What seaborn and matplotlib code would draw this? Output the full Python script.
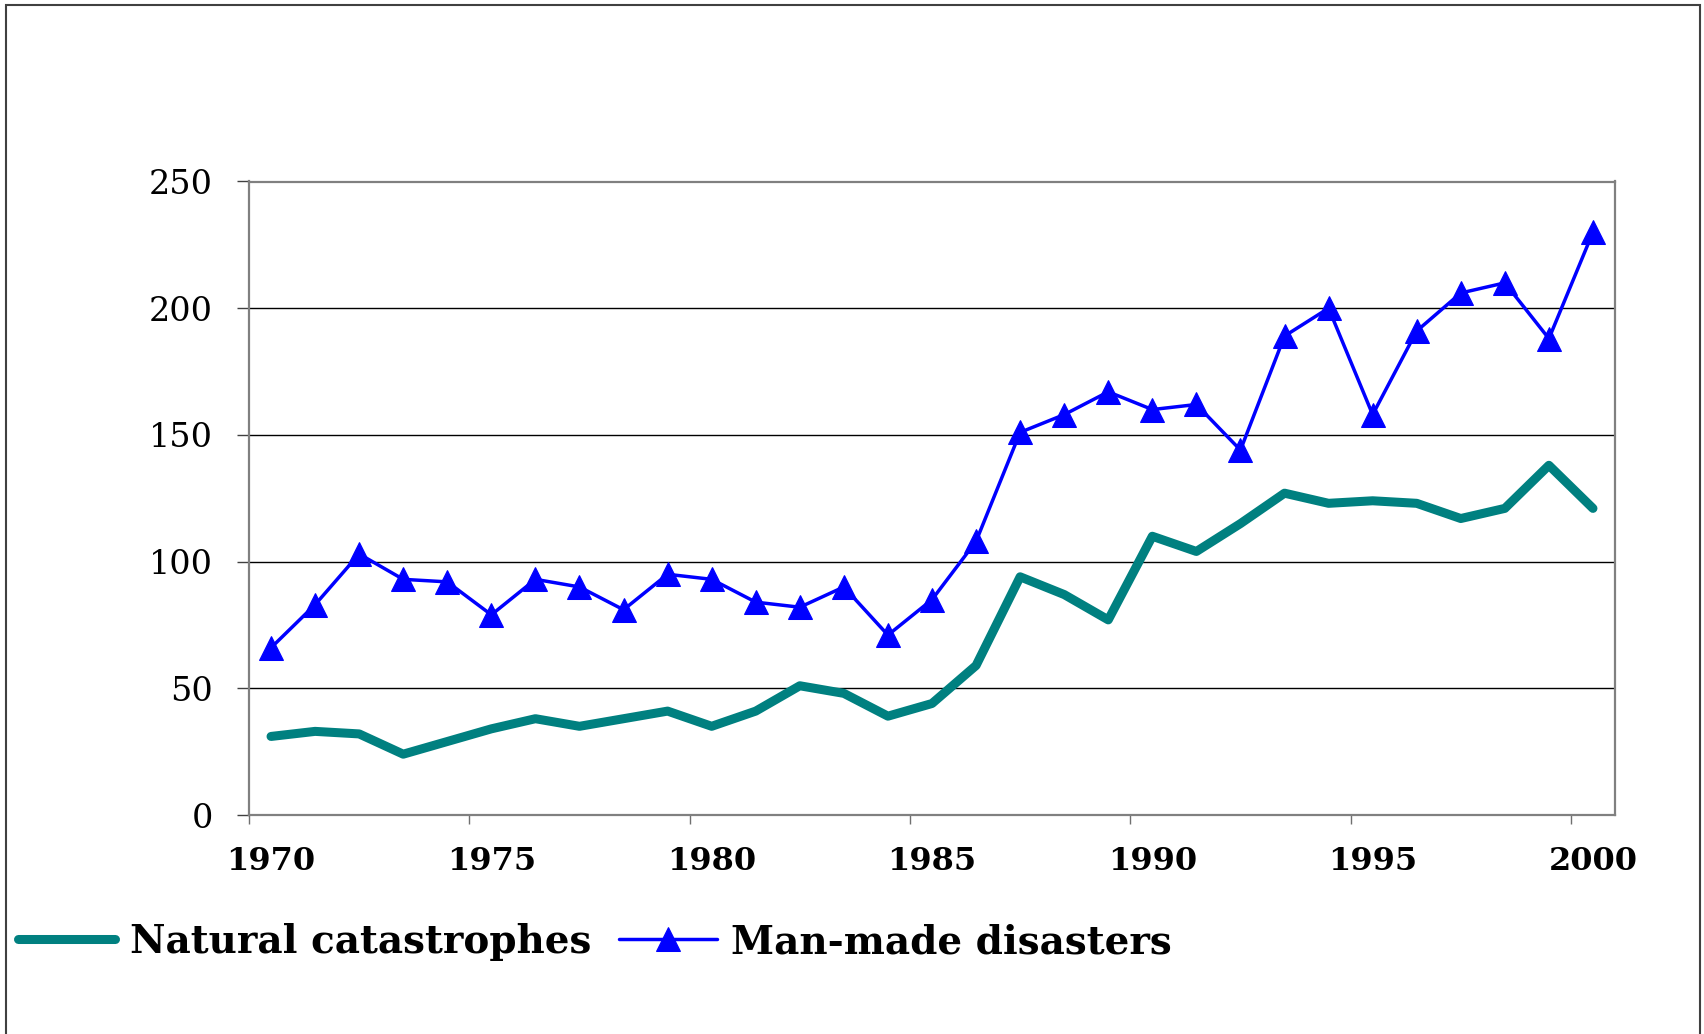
import numpy as np
import pandas as pd
import matplotlib
matplotlib.use("Agg")
import matplotlib.pyplot as plt
from matplotlib.patches import Rectangle
from matplotlib.ticker import FixedLocator
import seaborn as sns

# data
years = list(range(1970, 2001))
natural = [31, 33, 32, 24, 29, 34, 38, 35, 38, 41, 35, 41, 51, 48, 39, 44,
           59, 94, 87, 77, 110, 104, 115, 127, 123, 124, 123, 117, 121, 138, 121]
manmade = [66, 83, 103, 93, 92, 79, 93, 90, 81, 95, 93, 84, 82, 90, 71, 85,
           108, 151, 158, 167, 160, 162, 144, 189, 200, 158, 191, 206, 210, 188, 230]
series_names = ["Natural catastrophes", "Man-made disasters"]
y_ticks = [0, 50, 100, 150, 200, 250]
x_label_years = [1970, 1975, 1980, 1985, 1990, 1995, 2000]

sns.set_style("white")
plt.rcParams['font.family'] = ['DejaVu Serif', 'Liberation Serif']
plt.rcParams['text.color'] = 'black'
plt.rcParams['xtick.labelcolor'] = 'black'
plt.rcParams['ytick.labelcolor'] = 'black'

df = pd.DataFrame({"year": years, "natural": natural, "manmade": manmade})

W, H = 1704, 1034
fig = plt.figure(figsize=(W / 100, H / 100), dpi=100)
ax = fig.add_axes([249 / W, 1 - 815 / H, (1615 - 249) / W, (815 - 181.5) / H])

# gridlines first so the series sit on top
for yv in y_ticks[1:-1]:
    ax.axhline(yv, color="black", lw=1.0, zorder=1)

sns.lineplot(data=df, x="year", y="natural", ax=ax, color="#008080", lw=6.5,
             solid_capstyle="round", solid_joinstyle="round",
             label=series_names[0], zorder=3)
sns.lineplot(data=df, x="year", y="manmade", ax=ax, color="#0000FF", lw=2.5,
             marker="^", markersize=17, markeredgecolor="#0000FF",
             label=series_names[1], zorder=4)

ax.set_xlim(1969.5, 2000.5)
ax.set_ylim(0, 250)
ax.set_xlabel("")
ax.set_ylabel("")

# y axis
ax.set_yticks(y_ticks)
ax.set_yticklabels([str(v) for v in y_ticks], fontsize=24)
ax.tick_params(axis="y", direction="out", length=9, width=1, color="#404040",
               pad=17, left=True, right=False)

# x axis: ticks on category boundaries, labels on categories
ax.xaxis.set_major_locator(FixedLocator([1969.5 + 5 * k for k in range(7)]))
ax.xaxis.set_minor_locator(FixedLocator(x_label_years))
ax.set_xticklabels([""] * 7)
ax.set_xticklabels([str(y) for y in x_label_years], minor=True,
                   fontsize=23, fontweight="bold")
ax.tick_params(axis="x", which="major", direction="out", length=6.5, width=1,
               color="#707070", bottom=True)
ax.tick_params(axis="x", which="minor", length=0, pad=22)

for s in ax.spines.values():
    s.set_color("#808080")
    s.set_linewidth(1.6)
    s.set_visible(True)

# legend below the plot
handles, labels = ax.get_legend_handles_labels()
ax.get_legend().remove()
fig.legend(handles, labels, loc="center left", bbox_to_anchor=(18 / W, 1 - 942 / H),
           ncol=2, frameon=False, borderpad=0, borderaxespad=0,
           handlelength=2.5, handletextpad=0.38, columnspacing=0.72,
           prop={"size": 28, "weight": "bold"})

# outer border of the chart area
fig.patches.append(Rectangle((6 / W, -0.02), (1700 - 6) / W, 1.02 - 5 / H,
                             transform=fig.transFigure, fill=False,
                             edgecolor="#404040", lw=1.5))

fig.savefig("out.png", dpi=100)
